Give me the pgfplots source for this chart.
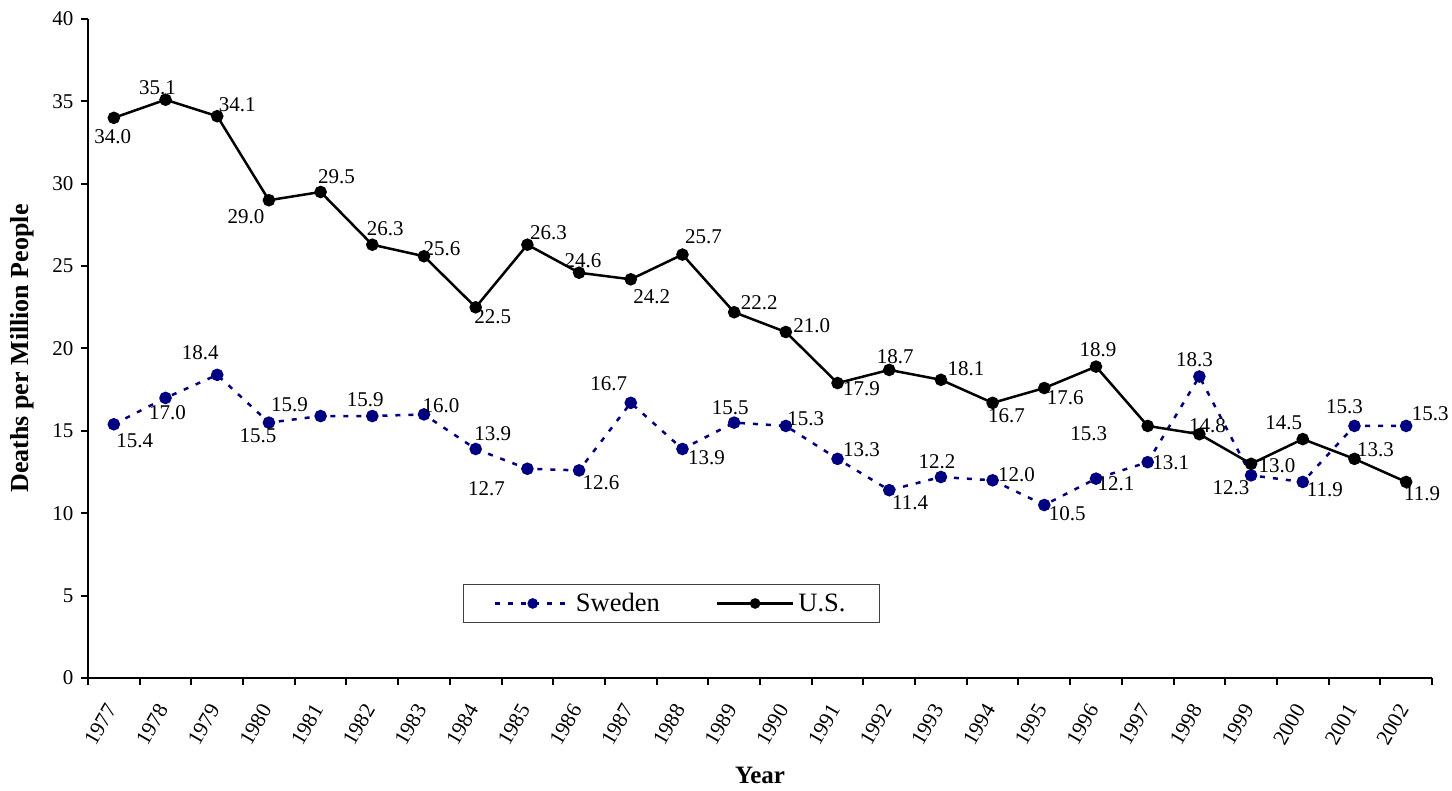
\documentclass[border=0pt]{standalone}
\usepackage{pgfplots}
\pgfplotsset{compat=1.18}
\usepackage{pgfplotstable}
\usepackage{fontspec}
\setmainfont{Liberation Serif}
\definecolor{swnavy}{RGB}{0,0,128}

% dx: right shift of label, dy: upward shift of label (pt)
\pgfplotstableread{
i y dx dy
0 34.0 -1 -19
1 35.1 -8 12
2 34.1 20 11
3 29.0 -23 -16
4 29.5 16 15
5 26.3 13 16
6 25.6 18 8
7 22.5 17 -9
8 26.3 21 12
9 24.6 4 12
10 24.2 21 -17
11 25.7 21 18
12 22.2 25 10
13 21.0 26 6
14 17.9 24 -6
15 18.7 6 13
16 18.1 25 11
17 16.7 14 -13
18 17.6 21 -10
19 18.9 2 17
20 15.3 -59 -8
21 14.8 8 8
22 13.0 26 -2
23 14.5 -19 16
24 13.3 21 9
25 11.9 16 -12
}\ustable

\pgfplotstableread{
i y dx dy
0 15.4 21 -16
1 17.0 2 -15
2 18.4 -17 22
3 15.5 -11 -13
4 15.9 -31 11
5 15.9 -7 16
6 16.0 17 9
7 13.9 17 15
8 12.7 -41 -20
9 12.6 22 -12
10 16.7 -22 19
11 13.9 24 -9
12 15.5 -4 15
13 15.3 20 7
14 13.3 24 9
15 11.4 21 -13
16 12.2 -4 15
17 12.0 24 6
18 10.5 23 -9
19 12.1 20 -5
20 13.1 23 -1
21 18.3 -5 17
22 12.3 -20 -12
23 11.9 22 -8
24 15.3 -10 19
25 15.3 24 12
}\swtable

\begin{document}
\begin{tikzpicture}
\begin{axis}[
  scale only axis, width=1344pt, height=659pt,
  xmin=-0.5, xmax=25.5, ymin=0, ymax=40,
  clip=false,
  axis x line*=bottom, axis y line*=left,
  axis line style={line width=2.5pt},
  tick align=outside,
  major tick length=0pt,
  minor tick length=7pt,
  every tick/.style={black, line width=2pt},
  xtick={0,1,...,25},
  xticklabels={1977,1978,1979,1980,1981,1982,1983,1984,1985,1986,1987,1988,1989,1990,1991,1992,1993,1994,1995,1996,1997,1998,1999,2000,2001,2002},
  minor xtick={-0.5,0.5,...,25.5},
  xticklabel style={xshift=-1pt, yshift=-25pt, rotate=60, anchor=east, font=\fontsize{21.5}{25}\selectfont},
  ytick={0,5,...,40},
  minor ytick={0,5,...,40},
  yticklabel style={font=\fontsize{21}{25}\selectfont, xshift=-11pt},
  /pgf/number format/assume math mode=true,
  every axis y label/.style={at={(axis description cs:-0.0491,0.5)}, rotate=90, anchor=center,
    font=\fontsize{26}{30}\selectfont\bfseries},
  every axis x label/.style={at={(axis description cs:0.5,-0.1472)}, anchor=center,
    font=\fontsize{25}{30}\selectfont\bfseries},
  ylabel={Deaths per Million People},
  xlabel={Year},
  legend columns=2,
  legend style={at={(0.279,0.1426)}, anchor=north west, draw=black!75, line width=1pt,
    fill=white, inner xsep=30pt, inner ysep=5pt, nodes={inner sep=4pt},
    font=\fontsize{26.5}{30}\selectfont},
  legend image code/.code={\draw[mark repeat=2,mark phase=2,#1,mark size=4pt]
    plot coordinates {(0pt,0pt) (38pt,0pt) (76pt,0pt)};},
  nodes near coords={\pgfmathprintnumber[fixed,fixed zerofill,precision=1]{\pgfplotspointmeta}},
  visualization depends on={\thisrow{dx} \as \ldx},
  visualization depends on={\thisrow{dy} \as \ldy},
  every node near coord/.append style={anchor=center, xshift=\ldx pt, yshift=\ldy pt,
    text=black, inner sep=0pt, font=\fontsize{21}{25}\selectfont},
]
\addplot[color=swnavy, line width=2.5pt, dash pattern=on 5pt off 8pt,
  mark=*, mark size=5pt, mark options={solid, fill=swnavy, draw=swnavy},
  point meta=explicit]
  table[x=i, y=y, meta=y]{\swtable};
\addlegendentry{Sweden\kern52pt}
\addplot[color=black, line width=2.5pt,
  mark=*, mark size=5pt, mark options={solid, fill=black},
  point meta=explicit]
  table[x=i, y=y, meta=y]{\ustable};
\addlegendentry{U.S.}
\end{axis}
\pgfresetboundingbox
\useasboundingbox (-88pt,-113pt) rectangle (1364pt,678pt);
\end{tikzpicture}
\end{document}
